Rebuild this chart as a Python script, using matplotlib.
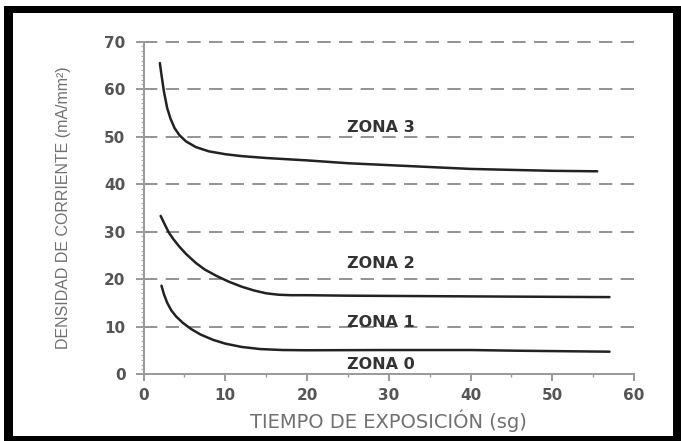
import numpy as np
import matplotlib
matplotlib.use('Agg')
import matplotlib.pyplot as plt
from matplotlib.patches import Rectangle
from matplotlib.ticker import MultipleLocator

# curve data
zona3_x = [2.0, 2.2, 2.5, 2.9, 3.3, 3.8, 4.4, 5.2, 6.4, 8, 10, 12, 15, 20, 25, 30, 35, 40, 45, 50, 55.5]
zona3_y = [65.5, 63, 59.5, 56, 53.8, 51.8, 50.3, 49, 47.8, 46.9, 46.3, 45.9, 45.5, 45, 44.4, 44, 43.6, 43.2, 43, 42.8, 42.7]

zona2_x = [2.1, 2.6, 3.1, 3.7, 4.4, 5.2, 6.4, 7.5, 9, 10.5, 12, 13.5, 15, 16.5, 18, 20, 25, 35, 45, 57]
zona2_y = [33.3, 31.5, 29.8, 28.3, 26.8, 25.3, 23.4, 22.0, 20.6, 19.4, 18.4, 17.6, 17.0, 16.7, 16.6, 16.6, 16.5, 16.4, 16.3, 16.2]

zona1_x = [2.2, 2.5, 2.9, 3.4, 4, 4.8, 5.8, 7, 8.5, 10, 12, 14.3, 17, 20, 30, 40, 46, 57]
zona1_y = [18.6, 16.8, 15.0, 13.4, 12.1, 10.8, 9.5, 8.3, 7.2, 6.4, 5.7, 5.25, 5.05, 5.0, 5.05, 5.05, 4.9, 4.7]

zone_labels = ['ZONA 3', 'ZONA 2', 'ZONA 1', 'ZONA 0']
zone_label_x = [29, 29, 29, 29]
zone_label_y = [51.9, 23.2, 10.8, 2.1]

xticks = [0, 10, 20, 30, 40, 50, 60]
yticks = [0, 10, 20, 30, 40, 50, 60, 70]

W, H = 681, 441
fig = plt.figure(figsize=(W / 100, H / 100), dpi=100)

# black frame around the picture
fig.patches.append(Rectangle((4 / W, 0), 677 / W, 435 / H, transform=fig.transFigure,
                             facecolor='black', edgecolor='none', zorder=-2))
fig.patches.append(Rectangle((13 / W, 5 / H), 660 / W, 423 / H, transform=fig.transFigure,
                             facecolor='white', edgecolor='none', zorder=-1))

ax = fig.add_axes([143.5 / W, 1 - 374 / H, 490.5 / W, 332.3 / H])
ax.set_facecolor('none')
ax.set_xlim(0, 60)
ax.set_ylim(0, 70)

for y in yticks[1:]:
    ax.axhline(y, color='#808080', lw=1.2, dashes=(8, 5), clip_on=False, zorder=1)

for xs, ys in [(zona3_x, zona3_y), (zona2_x, zona2_y), (zona1_x, zona1_y)]:
    ax.plot(xs, ys, color='#222222', lw=1.8, zorder=3, solid_capstyle='round')

for lab, lx, ly in zip(zone_labels, zone_label_x, zone_label_y):
    ax.text(lx, ly, lab, ha='center', va='center', fontsize=11.5, fontweight='bold',
            family='DejaVu Sans', color='#333333', zorder=4)

for s in ['top', 'right']:
    ax.spines[s].set_visible(False)
for s in ['left', 'bottom']:
    ax.spines[s].set_color('#999999')
    ax.spines[s].set_linewidth(1.4)

ax.set_xticks(xticks)
ax.set_yticks(yticks)
ax.xaxis.set_minor_locator(MultipleLocator(5))
ax.yaxis.set_minor_locator(MultipleLocator(1))
ax.tick_params(axis='x', which='major', length=5, width=1.2, color='#888888',
               labelsize=11, labelcolor='#555555', pad=5)
ax.tick_params(axis='x', which='minor', length=2, width=1, color='#999999')
ax.tick_params(axis='y', which='major', length=6, width=1.2, color='#888888',
               labelsize=11, labelcolor='#555555', pad=7)
ax.tick_params(axis='y', which='minor', length=2, width=0.8, color='#aaaaaa')
for t in ax.get_xticklabels() + ax.get_yticklabels():
    t.set_fontweight('bold')
    t.set_family('DejaVu Sans')

ax.set_xlabel('TIEMPO DE EXPOSICIÓN (sg)', fontsize=14, color='#707070', labelpad=5)
ax.set_ylabel('DENSIDAD DE CORRIENTE (mA/mm²)', fontsize=11.5, color='#707070',
              family='Liberation Sans', labelpad=24)

fig.savefig('out.png', dpi=100)
